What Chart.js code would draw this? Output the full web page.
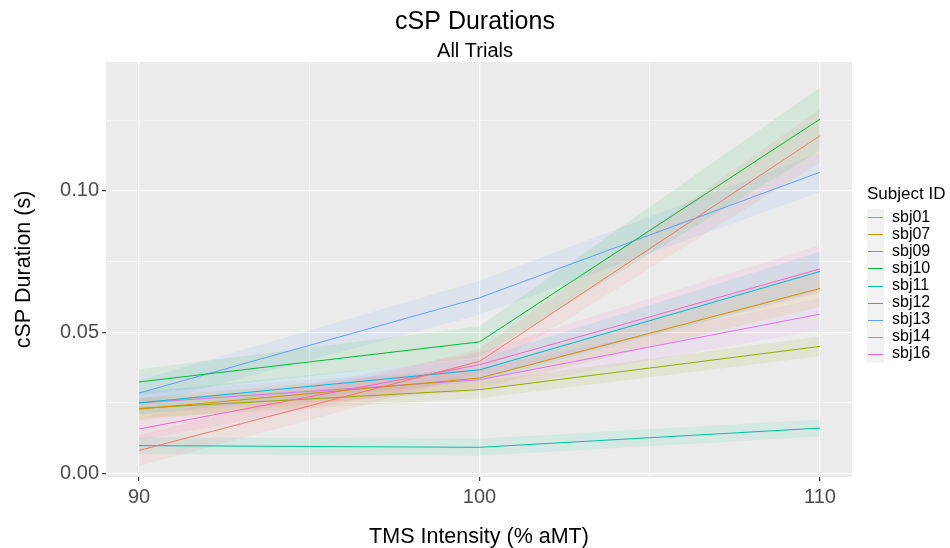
<!DOCTYPE html>
<html>
<head>
<meta charset="utf-8">
<title>cSP Durations</title>
<script src="https://cdn.jsdelivr.net/npm/chart.js@4"></script>
<style>
  body { margin: 0; background: #fff; }
  #wrap { width: 950px; height: 548px; }
</style>
</head>
<body>
<div id="wrap"><canvas id="chart" width="950" height="548"></canvas></div>
<script>
const intensity = [90, 100, 110];

const subjects = ["sbj01", "sbj07", "sbj09", "sbj10", "sbj11", "sbj12", "sbj13", "sbj14", "sbj16"];
const colors = ["#F8766D", "#D39200", "#93AA00", "#00BA38", "#00C19F", "#00B9E3", "#619CFF", "#DB72FB", "#FF61C3"];

// mean cSP duration (s) at 90 / 100 / 110 % aMT
const sbj01 = [0.0082, 0.0397, 0.1195];
const sbj07 = [0.0228, 0.0338, 0.0655];
const sbj09 = [0.0231, 0.0297, 0.0450];
const sbj10 = [0.0324, 0.0466, 0.1254];
const sbj11 = [0.0099, 0.0093, 0.0161];
const sbj12 = [0.0250, 0.0367, 0.0715];
const sbj13 = [0.0285, 0.0622, 0.1066];
const sbj14 = [0.0250, 0.0332, 0.0564];
const sbj16 = [0.0158, 0.0385, 0.0724];

// half width of the ribbon around each mean
const sbj01Band = [0.0055, 0.0045, 0.0095];
const sbj07Band = [0.0040, 0.0035, 0.0065];
const sbj09Band = [0.0035, 0.0030, 0.0035];
const sbj10Band = [0.0045, 0.0055, 0.0112];
const sbj11Band = [0.0030, 0.0030, 0.0030];
const sbj12Band = [0.0040, 0.0040, 0.0070];
const sbj13Band = [0.0045, 0.0060, 0.0070];
const sbj14Band = [0.0040, 0.0040, 0.0055];
const sbj16Band = [0.0040, 0.0045, 0.0085];

const xMajor = [90, 100, 110];
const xMinor = [95, 105];
const yMajor = [0, 0.05, 0.10];
const yMinor = [0.025, 0.075, 0.125];

const means = [sbj01, sbj07, sbj09, sbj10, sbj11, sbj12, sbj13, sbj14, sbj16];
const bands = [sbj01Band, sbj07Band, sbj09Band, sbj10Band, sbj11Band, sbj12Band, sbj13Band, sbj14Band, sbj16Band];

const FONT = "'Liberation Sans', Arial, sans-serif";

function hexToRgba(hex, a) {
  const n = parseInt(hex.slice(1), 16);
  return `rgba(${(n >> 16) & 255},${(n >> 8) & 255},${n & 255},${a})`;
}

function points(values) {
  return intensity.map((x, j) => ({ x, y: values[j] }));
}

const datasets = [];
subjects.forEach((name, i) => {
  const m = means[i];
  const b = bands[i];
  datasets.push({
    label: name + " lower",
    data: points(m.map((v, j) => v - b[j])),
    borderWidth: 0,
    pointRadius: 0,
    fill: false
  });
  datasets.push({
    label: name + " upper",
    data: points(m.map((v, j) => v + b[j])),
    borderWidth: 0,
    pointRadius: 0,
    backgroundColor: hexToRgba(colors[i], 0.1),
    fill: "-1"
  });
  datasets.push({
    label: name,
    data: points(m),
    borderColor: colors[i],
    borderWidth: 1,
    pointRadius: 0,
    fill: false
  });
});

function tickList(major, minor) {
  return major.map(v => ({ value: v, isMajor: true }))
    .concat(minor.map(v => ({ value: v, isMajor: false })))
    .sort((a, b) => a.value - b.value);
}

const panelBackground = {
  id: "panelBackground",
  beforeDraw(chart) {
    const { ctx, chartArea: a } = chart;
    ctx.save();
    ctx.fillStyle = "#fff";
    ctx.fillRect(0, 0, chart.width, chart.height);
    ctx.fillStyle = "#EBEBEB";
    ctx.fillRect(a.left, a.top, a.right - a.left, a.bottom - a.top);
    ctx.restore();
  }
};

const sideLegend = {
  id: "sideLegend",
  afterDraw(chart) {
    const ctx = chart.ctx;
    const keyX = 867, keyW = 17, keyH = 17.1, top = 208.6;
    ctx.save();
    ctx.fillStyle = "#000";
    ctx.font = "17px " + FONT;
    ctx.textBaseline = "middle";
    ctx.textAlign = "left";
    ctx.fillText("Subject ID", 867, 194);
    ctx.font = "16px " + FONT;
    ctx.fillStyle = "#F2F2F2";
    ctx.fillRect(keyX, top, keyW, keyH * subjects.length);
    subjects.forEach((name, i) => {
      const y = top + i * keyH;
      const lineY = Math.round(y + keyH / 2) + 0.5;
      ctx.strokeStyle = colors[i];
      ctx.lineWidth = 1;
      ctx.beginPath();
      ctx.moveTo(keyX + 1, lineY);
      ctx.lineTo(keyX + keyW - 1, lineY);
      ctx.stroke();
      ctx.fillStyle = "#000";
      ctx.fillText(name, 892, y + keyH / 2);
    });
    ctx.restore();
  }
};

new Chart(document.getElementById("chart"), {
  type: "line",
  data: { datasets },
  plugins: [panelBackground, sideLegend],
  options: {
    responsive: false,
    animation: false,
    layout: { padding: 0 },
    plugins: {
      legend: { display: false },
      tooltip: { enabled: false },
      filler: { drawTime: "beforeDatasetsDraw" },
      title: {
        display: true,
        text: "cSP Durations",
        color: "#000",
        font: { family: FONT, size: 25, weight: "normal", lineHeight: 1 },
        padding: { top: 9.5, bottom: 0 }
      },
      subtitle: {
        display: true,
        text: "All Trials",
        color: "#000",
        font: { family: FONT, size: 20, weight: "normal", lineHeight: 1 },
        padding: { top: 6.5, bottom: 1 }
      }
    },
    scales: {
      x: {
        type: "linear",
        min: 89.03,
        max: 110.94,
        afterBuildTicks: s => { s.ticks = tickList(xMajor, xMinor); },
        afterFit: s => { s.height = 71; },
        border: { display: false },
        grid: {
          color: "#fff",
          lineWidth: c => (c.tick && c.tick.isMajor ? 1.2 : 0.6),
          tickColor: c => (c.tick && c.tick.isMajor ? "#333" : "rgba(0,0,0,0)"),
          tickLength: 4
        },
        ticks: {
          autoSkip: false,
          maxRotation: 0,
          padding: 4,
          color: "#4D4D4D",
          font: { family: FONT, size: 20 },
          callback: (v, i, ticks) => (ticks[i].isMajor ? String(v) : "")
        },
        title: {
          display: true,
          text: "TMS Intensity (% aMT)",
          color: "#000",
          font: { family: FONT, size: 21.5, lineHeight: 1 },
          padding: { top: 0, bottom: 0 }
        }
      },
      y: {
        min: -0.0012,
        max: 0.1456,
        afterBuildTicks: s => { s.ticks = tickList(yMajor, yMinor); },
        afterFit: s => { s.width = 106; },
        border: { display: false },
        grid: {
          color: "#fff",
          lineWidth: c => (c.tick && c.tick.isMajor ? 1.2 : 0.6),
          tickColor: c => (c.tick && c.tick.isMajor ? "#333" : "rgba(0,0,0,0)"),
          tickLength: 4
        },
        ticks: {
          autoSkip: false,
          padding: 3,
          color: "#4D4D4D",
          font: { family: FONT, size: 20 },
          callback: (v, i, ticks) => (ticks[i].isMajor ? v.toFixed(2) : "")
        },
        title: {
          display: true,
          text: "cSP Duration (s)",
          color: "#000",
          font: { family: FONT, size: 21.5, lineHeight: 1 },
          padding: { top: 13, bottom: 0 }
        }
      },
      // empty right-hand axis that only reserves room for the legend
      legendSpace: {
        type: "linear",
        position: "right",
        afterFit: s => { s.width = 98; },
        border: { display: false },
        grid: { display: false },
        ticks: { display: false }
      }
    }
  }
});
</script>
</body>
</html>
